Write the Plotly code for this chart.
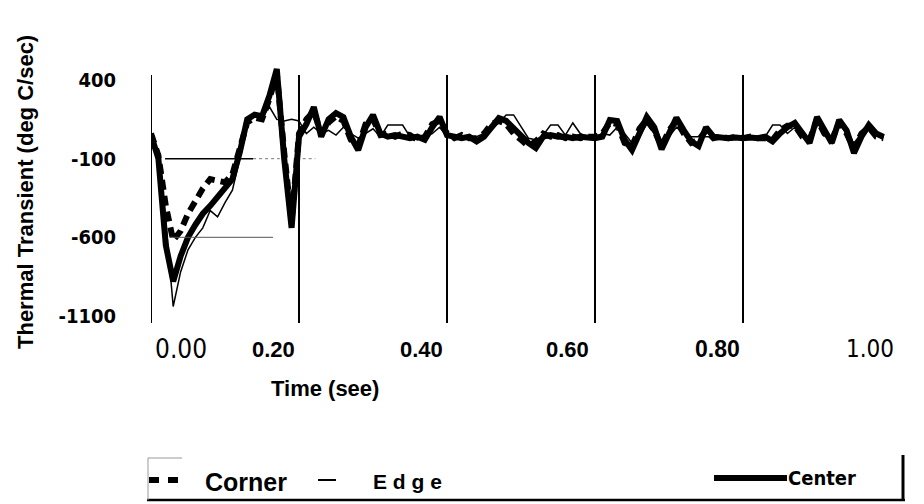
import plotly.graph_objects as go

# ---------------- data ----------------
time_s = [0.00, 0.01, 0.02, 0.03, 0.04, 0.05, 0.06, 0.07, 0.08, 0.09,
          0.10, 0.11, 0.12, 0.13, 0.14, 0.15, 0.16, 0.17, 0.18, 0.19,
          0.20, 0.21, 0.22, 0.23, 0.24, 0.25, 0.26, 0.27, 0.28, 0.29,
          0.30, 0.31, 0.32, 0.33, 0.34, 0.35, 0.36, 0.37, 0.38, 0.39,
          0.40, 0.41, 0.42, 0.43, 0.44, 0.45, 0.46, 0.47, 0.48, 0.49,
          0.50, 0.51, 0.52, 0.53, 0.54, 0.55, 0.56, 0.57, 0.58, 0.59,
          0.60, 0.61, 0.62, 0.63, 0.64, 0.65, 0.66, 0.67, 0.68, 0.69,
          0.70, 0.71, 0.72, 0.73, 0.74, 0.75, 0.76, 0.77, 0.78, 0.79,
          0.80, 0.81, 0.82, 0.83, 0.84, 0.85, 0.86, 0.87, 0.88, 0.89,
          0.90, 0.91, 0.92, 0.93, 0.94, 0.95, 0.96, 0.97, 0.98, 0.99]

corner = [60, -80, -400, -620, -560, -450, -370, -290, -230, -240,
          -250, -200, -40, 130, 160, 150, 280, 440, -60, -500,
          60, 150, 200, 60, 130, 170, 140, 20, -20, 120,
          150, 50, 60, 40, 60, 50, 20, 40, 120, 140,
          60, 30, 50, 30, 30, 60, 120, 140, 120, 60,
          20, -20, 10, 60, 40, 50, 30, 40, 30, 40,
          40, 60, 130, 120, 0, -20, 90, 150, 80, -20,
          80, 140, 60, 0, 20, 80, 30, 40, 30, 40,
          30, 40, 30, 30, 20, 80, 110, 110, 40, 20,
          150, 60, 20, 130, 60, -40, 60, 100, 40, 30]

edge = [20, -50, -500, -1040, -820, -680, -600, -540, -430, -470,
        -380, -300, -100, 140, 170, 160, 230, 150, 140, 150,
        140, 60, 100, 60, 80, 50, 100, 60, 30, 60,
        90, 40, 114, 114, 114, 40, 20, 40, 60, 100,
        40, 50, 30, 40, 40, 60, 80, 130, 178, 178,
        100, 30, 20, 50, 114, 114, 50, 127, 60, 40,
        40, 60, 50, 100, 60, 0, 40, 120, 60, 0,
        40, 100, 60, 40, 40, 40, 40, 40, 40, 40,
        40, 40, 40, 40, 114, 114, 60, 100, 40, 30,
        130, 60, 40, 120, 60, 0, 60, 100, 50, 40]

center = [50, -100, -650, -880, -720, -600, -520, -450, -400, -340,
          -290, -230, -60, 150, 180, 170, 300, 470, -100, -540,
          40, 120, 228, 40, 150, 190, 165, 40, -45, 100,
          178, 60, 40, 50, 40, 30, 40, 20, 100, 165,
          50, 40, 30, 40, 10, 40, 100, 158, 140, 90,
          40, 0, -32, 40, 50, 40, 40, 30, 40, 35,
          30, 40, 146, 140, 20, -45, 60, 165, 100, -40,
          60, 160, 80, 10, -20, 100, 40, 35, 30, 35,
          30, 35, 30, 40, 10, 60, 100, 127, 60, 0,
          165, 80, 0, 146, 80, -64, 40, 114, 60, 38]

y_tick_vals = [400, -100, -600, -1100]
y_tick_text = ["400", "-100", "-600", "-1100"]
grid_x = [0.0, 0.2, 0.4, 0.6, 0.8]
grid_y_span = [-1145, 432]
x_tick_text = ["0.00", "0.20", "0.40", "0.60", "0.80", "1.00"]
x_tick_pos = [0.040, 0.165, 0.365, 0.563, 0.766, 0.972]   # where labels sit in the picture

# ---------------- geometry (screen pixels; page body has an 8px margin) ----------------
OFF = 8
W, H = 924 - OFF, 504 - OFF
SL, ST, SB = 151, 67, 323          # plot-area left / top / bottom on screen
L, T = SL - OFF, ST - OFF
B = 504 - SB
R = 33
PW, PH = W - L - R, H - T - B


def px(x):
    return (x - SL) / PW


def py(y):
    return (SB - y) / PH


NARROW = "Liberation Sans Narrow, Arial Narrow, DejaVu Sans Condensed, sans-serif"
ARIAL = "Liberation Sans, Arial, sans-serif"


def label(x, y, text, font, xanchor="center", angle=0):
    fig.add_annotation(x=px(x), y=py(y), xref="paper", yref="paper", text=text,
                       xanchor=xanchor, yanchor="middle", textangle=angle,
                       showarrow=False, font=font)


fig = go.Figure()

# vertical grid lines + y axis line (stop a little below the top of the plotting area)
for gx in grid_x:
    fig.add_shape(type="line", xref="x", yref="y", x0=gx, x1=gx,
                  y0=grid_y_span[0], y1=grid_y_span[1],
                  line=dict(color="black", width=2), layer="below")

fig.add_trace(go.Scatter(x=time_s, y=corner, mode="lines", name="Corner",
                         line=dict(color="black", width=6, dash="10px,6px"),
                         showlegend=False))
fig.add_trace(go.Scatter(x=time_s, y=center, mode="lines", name="Center",
                         line=dict(color="black", width=6),
                         showlegend=False))
fig.add_trace(go.Scatter(x=time_s, y=edge, mode="lines", name="Edge",
                         line=dict(color="black", width=1.5),
                         showlegend=False))

# stray partial reference lines visible in the picture
fig.add_shape(type="line", xref="x", yref="y", x0=0.019, x1=0.138, y0=-100, y1=-100,
              line=dict(color="black", width=1.5))
fig.add_shape(type="line", xref="x", yref="y", x0=0.138, x1=0.174, y0=-100, y1=-100,
              line=dict(color="#777", width=1, dash="dot"))
fig.add_shape(type="line", xref="x", yref="y", x0=0.205, x1=0.222, y0=-100, y1=-100,
              line=dict(color="#777", width=1, dash="dot"))
fig.add_shape(type="line", xref="x", yref="y", x0=0.026, x1=0.165, y0=-600, y1=-600,
              line=dict(color="#555", width=1))

# x tick labels (placed as in the picture)
x_fonts = [dict(family=NARROW, size=26, color="black"),
           dict(family=ARIAL, size=22, color="black", weight="bold"),
           dict(family=ARIAL, size=22, color="black", weight="bold"),
           dict(family=ARIAL, size=22, color="black", weight="bold"),
           dict(family=ARIAL, size=23, color="black", weight=900),
           dict(family=NARROW, size=24, color="black")]
for txt, pos, fnt in zip(x_tick_text, x_tick_pos, x_fonts):
    fig.add_annotation(x=pos, xref="x", y=py(349), yref="paper", text=txt,
                       showarrow=False, font=fnt, xanchor="center", yanchor="middle")

# axis titles
label(325, 388, "Time (see)", dict(family=ARIAL, size=22, color="black", weight="bold"))
label(25, 192, "Thermal Transient (deg C/sec)",
      dict(family=ARIAL, size=22, color="black", weight="bold"), angle=-90)

# ---------------- legend drawn by hand ----------------
fig.add_shape(type="line", xref="paper", yref="paper", x0=px(147), x1=px(905), y0=py(500), y1=py(500),
              line=dict(color="black", width=2.5))
fig.add_shape(type="line", xref="paper", yref="paper", x0=px(903), x1=px(903), y0=py(455), y1=py(501),
              line=dict(color="black", width=3))
fig.add_shape(type="line", xref="paper", yref="paper", x0=px(148), x1=px(148), y0=py(458), y1=py(500),
              line=dict(color="#999", width=1))
fig.add_shape(type="line", xref="paper", yref="paper", x0=px(148), x1=px(182), y0=py(458), y1=py(458),
              line=dict(color="#999", width=1))
# samples
fig.add_shape(type="line", xref="paper", yref="paper", x0=px(149), x1=px(159), y0=py(480), y1=py(480),
              line=dict(color="black", width=6))
fig.add_shape(type="line", xref="paper", yref="paper", x0=px(168), x1=px(178), y0=py(480), y1=py(480),
              line=dict(color="black", width=6))
fig.add_shape(type="line", xref="paper", yref="paper", x0=px(318), x1=px(336), y0=py(480), y1=py(480),
              line=dict(color="black", width=2))
fig.add_shape(type="line", xref="paper", yref="paper", x0=px(714), x1=px(787), y0=py(478), y1=py(478),
              line=dict(color="black", width=6))
label(203, 482, "Corner", dict(family=ARIAL, size=25, color="black", weight="bold"), xanchor="left")
label(371, 481, "E d g e", dict(family=ARIAL, size=21, color="black", weight="bold"), xanchor="left")
label(786, 478, "Center", dict(family=NARROW, size=20, color="black", weight="bold"), xanchor="left")

fig.update_layout(
    width=W, height=H,
    margin=dict(l=L, r=R, t=T, b=B, pad=0),
    paper_bgcolor="white", plot_bgcolor="white",
    showlegend=False,
    xaxis=dict(range=[0, 1.0], showticklabels=False, ticks="",
               showgrid=False, zeroline=False, showline=False, fixedrange=True),
    yaxis=dict(range=[-1145, 483], tickvals=y_tick_vals, ticktext=y_tick_text,
               ticks="outside", ticklen=30, tickcolor="rgba(0,0,0,0)",
               tickfont=dict(family=NARROW, size=20, color="black", weight="bold"),
               showgrid=False, zeroline=False, showline=False, fixedrange=True),
)

fig.write_html("out.html")
